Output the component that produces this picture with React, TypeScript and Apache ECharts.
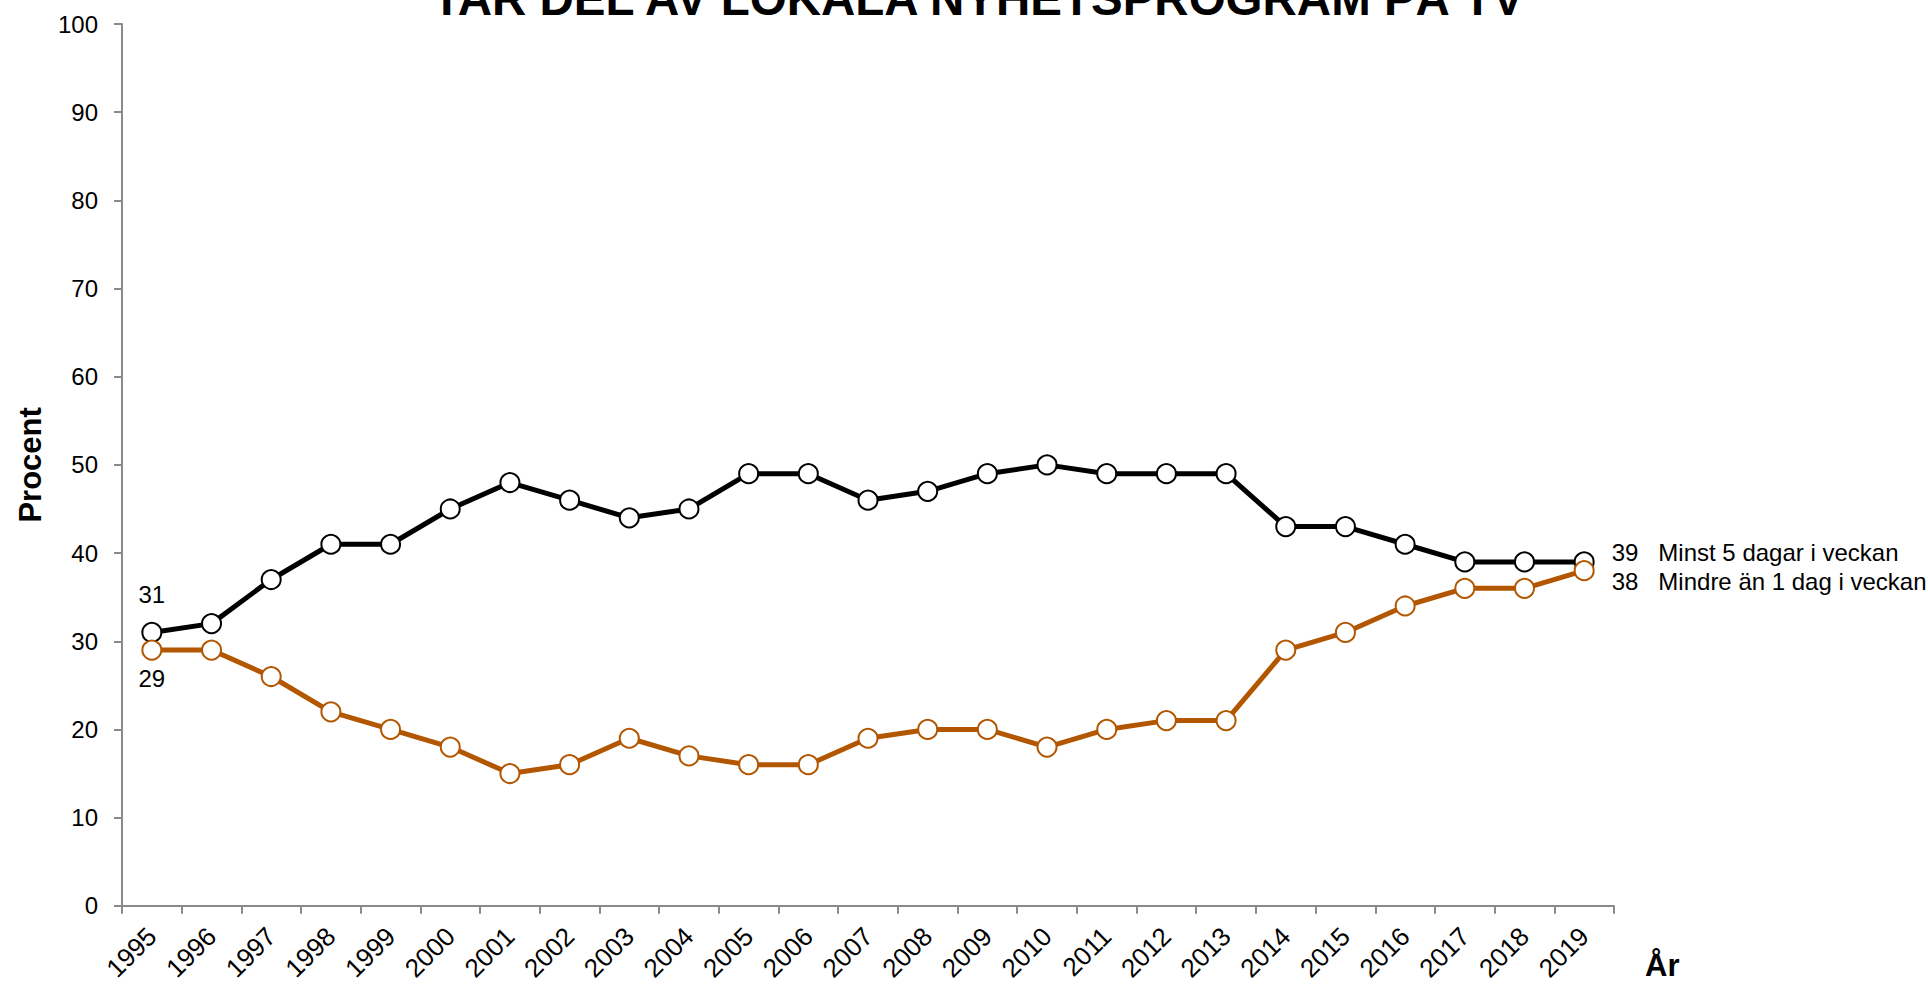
import React, { useEffect, useRef } from "react";
import * as echarts from "echarts";

const years = ["1995","1996","1997","1998","1999","2000","2001","2002","2003","2004","2005","2006","2007","2008","2009","2010","2011","2012","2013","2014","2015","2016","2017","2018","2019"];
const minst5 = [31,32,37,41,41,45,48,46,44,45,49,49,46,47,49,50,49,49,49,43,43,41,39,39,39];
const mindre1 = [29,29,26,22,20,18,15,16,19,17,16,16,19,20,20,18,20,21,21,29,31,34,36,36,38];
const seriesNames = ["Minst 5 dagar i veckan", "Mindre än 1 dag i veckan"];
const titleText = "TAR DEL AV LOKALA NYHETSPROGRAM PÅ TV";

const FONT = "'Liberation Sans', Arial, sans-serif";
const BLACK = "#000000";
const ORANGE = "#B35600";
const AXIS = "#8a8a8a";

function buildData(values: number[], name: string, firstPos: string, firstDist: number, lastOffsetY: number) {
  return values.map((v, i) => {
    if (i === 0) {
      return { value: v, label: { show: true, position: firstPos, distance: firstDist, formatter: "{c}" } };
    }
    if (i === values.length - 1) {
      return {
        value: v,
        label: { show: true, position: "right", distance: 17, offset: [0, lastOffsetY], formatter: `{c}   ${name}` },
      };
    }
    return v;
  });
}

export default function App() {
  const ref = useRef<HTMLDivElement>(null);
  useEffect(() => {
    if (!ref.current) return;
    const chart = echarts.init(ref.current, undefined, { renderer: "svg" });
    const labelStyle = { color: "#000", fontSize: 24, fontFamily: FONT };
    chart.setOption({
      animation: false,
      backgroundColor: "#ffffff",
      textStyle: { fontFamily: FONT },
      grid: { left: 122, right: 314, top: 24, bottom: 70, containLabel: false },
      graphic: [
        {
          type: "text",
          x: 978,
          y: -2,
          style: {
            text: titleText,
            font: `bold 47.5px ${FONT}`,
            fill: "#000",
            textAlign: "center",
            textVerticalAlign: "middle",
          },
        },
      ],
      xAxis: {
        type: "category",
        data: years,
        boundaryGap: true,
        name: "År",
        nameLocation: "end",
        nameGap: 31,
        nameTextStyle: { fontSize: 31, fontWeight: "bold", color: "#000", fontFamily: FONT, verticalAlign: "top", padding: [44, 0, 0, 0], align: "left" },
        axisLine: { lineStyle: { color: AXIS, width: 2 } },
        axisTick: { show: true, length: 8, lineStyle: { color: AXIS, width: 2 } },
        axisLabel: { rotate: 45, margin: 26, fontSize: 26, color: "#000", fontFamily: FONT, interval: 0 },
        splitLine: { show: false },
      },
      yAxis: {
        type: "value",
        min: 0,
        max: 100,
        interval: 10,
        name: "Procent",
        nameLocation: "middle",
        nameGap: 76,
        nameTextStyle: { fontSize: 31, fontWeight: "bold", color: "#000", fontFamily: FONT },
        axisLine: { show: true, lineStyle: { color: AXIS, width: 2 } },
        axisTick: { show: true, length: 8, lineStyle: { color: AXIS, width: 2 } },
        axisLabel: { margin: 24, fontSize: 24, color: "#000", fontFamily: FONT },
        splitLine: { show: false },
      },
      series: [
        {
          name: seriesNames[0],
          type: "line",
          data: buildData(minst5, seriesNames[0], "top", 15, -9),
          symbol: "circle",
          symbolSize: 19,
          lineStyle: { color: BLACK, width: 5 },
          itemStyle: { color: "#ffffff", borderColor: BLACK, borderWidth: 2 },
          label: labelStyle,
          z: 2,
        },
        {
          name: seriesNames[1],
          type: "line",
          data: buildData(mindre1, seriesNames[1], "bottom", 6, 11),
          symbol: "circle",
          symbolSize: 19,
          lineStyle: { color: ORANGE, width: 5 },
          itemStyle: { color: "#ffffff", borderColor: ORANGE, borderWidth: 2 },
          label: labelStyle,
          z: 3,
        },
      ],
    });
    return () => chart.dispose();
  }, []);
  return <div ref={ref} style={{ position: "fixed", left: 0, top: 0, width: 1928, height: 984 }} />;
}
